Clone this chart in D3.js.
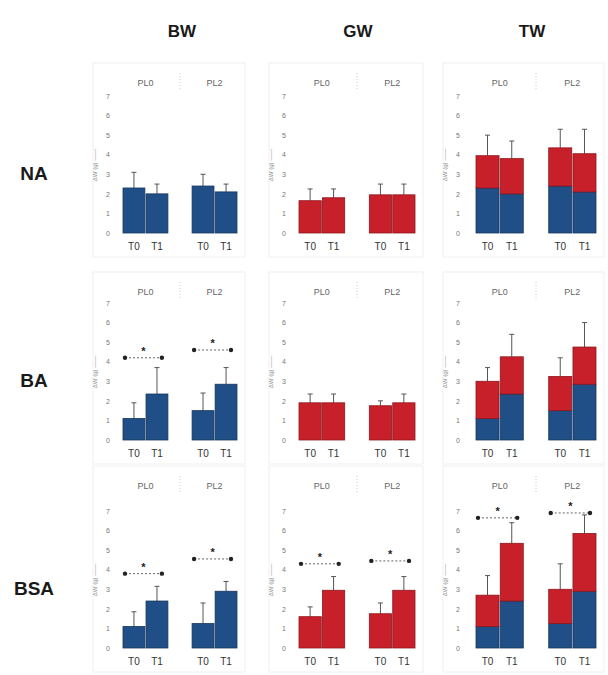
<!DOCTYPE html>
<html>
<head>
<meta charset="utf-8">
<script src="https://cdn.jsdelivr.net/npm/d3@7"></script>
<style>
  body { margin: 0; background: #fff; }
  text { font-family: "Liberation Sans", Arial, sans-serif; }
</style>
</head>
<body>
<div id="vis"></div>
<script>
// categories
var rows = ["NA", "BA", "BSA"];
var cols = ["BW", "GW", "TW"];
var facets = ["PL0", "PL2"];
var times = ["T0", "T1"];
var yTicks = [0, 1, 2, 3, 4, 5, 6, 7];

// values per row, order: PL0-T0, PL0-T1, PL2-T0, PL2-T1
var bwMean = [[2.3, 2.0, 2.4, 2.1], [1.1, 2.35, 1.5, 2.85], [1.1, 2.4, 1.25, 2.9]];
var bwErr  = [[0.8, 0.5, 0.6, 0.4], [0.8, 1.35, 0.9, 0.85], [0.75, 0.75, 1.05, 0.5]];
var gwMean = [[1.65, 1.8, 1.95, 1.95], [1.9, 1.9, 1.75, 1.9], [1.6, 2.95, 1.75, 2.95]];
var gwErr  = [[0.6, 0.45, 0.55, 0.55], [0.45, 0.45, 0.25, 0.45], [0.5, 0.7, 0.55, 0.7]];
var twErr  = [[1.05, 0.9, 0.95, 1.25], [0.7, 1.15, 0.95, 1.25], [1.0, 1.05, 1.3, 0.95]];

// significant T0 vs T1 comparisons: row, column, facet, bracket height
var sigRow   = ["BA", "BA", "BSA", "BSA", "BSA", "BSA", "BSA", "BSA"];
var sigCol   = ["BW", "BW", "BW", "BW", "GW", "GW", "TW", "TW"];
var sigFacet = ["PL0", "PL2", "PL0", "PL2", "PL0", "PL2", "PL0", "PL2"];
var sigY     = [4.2, 4.6, 3.8, 4.55, 4.3, 4.45, 6.65, 6.9];

var blue = "#1f4f86", red = "#c8202a";

width = 608
height = 675

var svg = d3.select("#vis")
    .append("svg")
    .attr("width", width)
    .attr("height", height)

// layout
var colX = {BW: 107, GW: 283, TW: 457};
var colRange = {BW: [16, 130], GW: [16, 132], TW: [19, 139]};
var rowBase = {NA: 233, BA: 440, BSA: 648};
var stripOff = {NA: 150, BA: 148, BSA: 162};
var plotH = 137;

// column headers
svg.selectAll(".colhead")
    .data(cols)
    .enter()
    .append("text")
    .attr("class", "colhead")
    .attr("x", function(d) { return colX[d] + 75; })
    .attr("y", 37)
    .attr("text-anchor", "middle")
    .attr("font-size", 17)
    .attr("font-weight", "bold")
    .attr("fill", "#1a1a1a")
    .text(function(d) { return d; })

// row labels
svg.selectAll(".rowhead")
    .data(rows)
    .enter()
    .append("text")
    .attr("class", "rowhead")
    .attr("x", 34)
    .attr("y", function(d) { return rowBase[d] - 53; })
    .attr("text-anchor", "middle")
    .attr("font-size", 19)
    .attr("font-weight", "bold")
    .attr("fill", "#1a1a1a")
    .text(function(d) { return d; })

function panel(row, col){
    var ri = rows.indexOf(row);
    var x0 = colX[col];
    var base = rowBase[row];
    var g = svg.append("g")

    var y = d3.scaleLinear().domain([0, 7]).range([base, base - plotH]);
    var xF = d3.scaleBand().domain(facets)
        .range([x0 + colRange[col][0], x0 + colRange[col][1]])
        .paddingInner(0.35);
    var xT = d3.scaleBand().domain(times).range([0, xF.bandwidth()]).paddingInner(0.05);

    // faint frame
    g.append("rect")
        .attr("x", x0 - 14)
        .attr("y", base - stripOff[row] - 20)
        .attr("width", colRange[col][1] + 22)
        .attr("height", stripOff[row] + 44)
        .attr("fill", "none")
        .attr("stroke", "#f0f0f0")

    // y axis (labels only)
    var yAxis = d3.axisLeft(y).tickValues(yTicks).tickFormat(d3.format("d")).tickSize(0).tickPadding(0);
    var ax = g.append("g")
        .attr("transform", "translate(" + (x0 + 3) + ",0)")
        .call(yAxis)
    ax.select(".domain").remove()
    ax.selectAll("text")
        .attr("font-size", 7)
        .attr("fill", "#777")
        .attr("font-family", "Liberation Serif, serif")

    g.append("text")
        .attr("transform", "translate(" + (x0 - 10) + "," + (base - 68) + ") rotate(-90)")
        .attr("text-anchor", "middle")
        .attr("font-size", 6)
        .attr("fill", "#888")
        .text("ΔW (g) ——")

    // strip labels
    g.selectAll(".strip")
        .data(facets)
        .enter()
        .append("text")
        .attr("x", function(d) { return xF(d) + xF.bandwidth() / 2; })
        .attr("y", base - stripOff[row] + 3)
        .attr("text-anchor", "middle")
        .attr("font-size", 9)
        .attr("fill", "#666")
        .attr("font-family", "Liberation Serif, serif")
        .text(function(d) { return d; })

    // dotted separator between strips
    g.append("line")
        .attr("x1", (xF("PL0") + xF.bandwidth() + xF("PL2")) / 2)
        .attr("x2", (xF("PL0") + xF.bandwidth() + xF("PL2")) / 2)
        .attr("y1", base - stripOff[row] - 10)
        .attr("y2", base - stripOff[row] + 8)
        .attr("stroke", "#ccc")
        .attr("stroke-dasharray", "1,2")

    var bars = [];
    facets.forEach(function(f, fi){
        times.forEach(function(t, ti){
            var k = fi * 2 + ti;
            var b = bwMean[ri][k], gw = gwMean[ri][k];
            var d = {facet: f, time: t};
            if (col === "BW"){ d.parts = [[0, b, blue]]; d.top = b; d.err = bwErr[ri][k]; }
            else if (col === "GW"){ d.parts = [[0, gw, red]]; d.top = gw; d.err = gwErr[ri][k]; }
            else { d.parts = [[0, b, blue], [b, b + gw, red]]; d.top = b + gw; d.err = twErr[ri][k]; }
            bars.push(d);
        })
    })

    // error bars (drawn behind bars)
    bars.forEach(function(d){
        var cx = xF(d.facet) + xT(d.time) + xT.bandwidth() / 2;
        g.append("line")
            .attr("x1", cx).attr("x2", cx)
            .attr("y1", y(d.top)).attr("y2", y(d.top + d.err))
            .attr("stroke", "#555").attr("stroke-width", 1)
        g.append("line")
            .attr("x1", cx - 2.5).attr("x2", cx + 2.5)
            .attr("y1", y(d.top + d.err)).attr("y2", y(d.top + d.err))
            .attr("stroke", "#555").attr("stroke-width", 1)
    })

    bars.forEach(function(d){
        d.parts.forEach(function(p){
            g.append("rect")
                .attr("x", xF(d.facet) + xT(d.time))
                .attr("y", y(p[1]))
                .attr("width", xT.bandwidth())
                .attr("height", y(p[0]) - y(p[1]))
                .attr("fill", p[2])
                .attr("stroke", d3.color(p[2]).darker(1))
                .attr("stroke-width", 0.8)
        })
    })

    // time labels
    bars.forEach(function(d){
        g.append("text")
            .attr("x", xF(d.facet) + xT(d.time) + xT.bandwidth() / 2)
            .attr("y", base + 17)
            .attr("text-anchor", "middle")
            .attr("font-size", 10)
            .attr("fill", "#333")
            .text(d.time)
    })

    // significance brackets
    sigRow.forEach(function(r, i){
        if (r !== row || sigCol[i] !== col) return;
        var f = sigFacet[i];
        var xa = xF(f) + xT("T0") + 2;
        var xb = xF(f) + xT("T1") + xT.bandwidth() - 6;
        var yy = y(sigY[i]);
        g.append("line")
            .attr("x1", xa).attr("x2", xb)
            .attr("y1", yy).attr("y2", yy)
            .attr("stroke", "#666").attr("stroke-dasharray", "2,2")
        g.selectAll(null)
            .data([xa, xb])
            .enter()
            .append("circle")
            .attr("cx", function(v) { return v; })
            .attr("cy", yy)
            .attr("r", 2.2)
            .attr("fill", "#222")
        g.append("text")
            .attr("x", (xa + xb) / 2)
            .attr("y", yy - 3)
            .attr("text-anchor", "middle")
            .attr("font-size", 11)
            .attr("font-weight", "bold")
            .attr("fill", "#222")
            .text("*")
    })
}

rows.forEach(function(r){
    cols.forEach(function(c){
        panel(r, c);
    })
})
</script>
</body>
</html>
